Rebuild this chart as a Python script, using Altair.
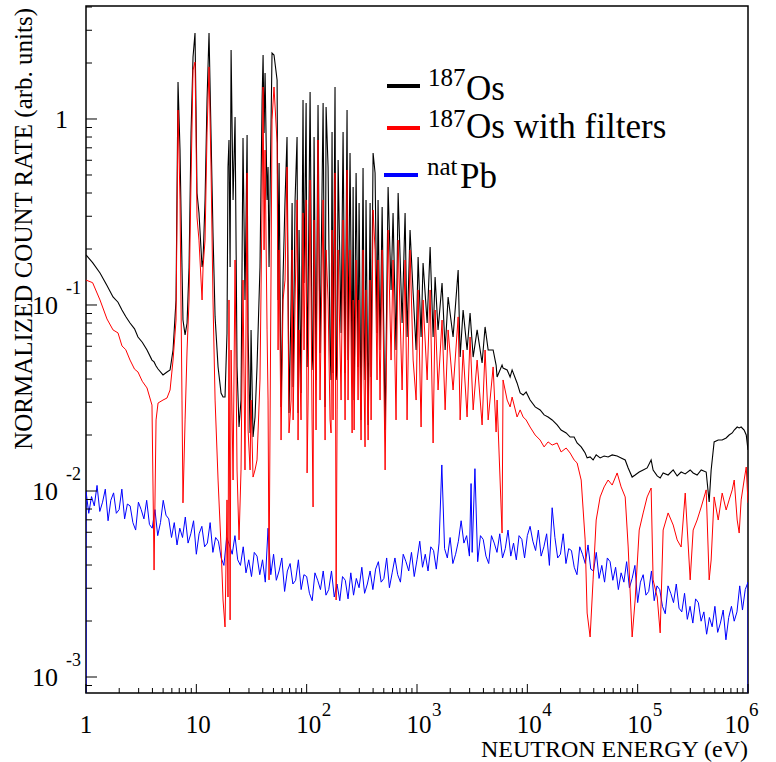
import altair as alt
import numpy as np
import pandas as pd

# ---------------- data (log10 units) ----------------
# log10 of neutron energy (eV) for the 187Os spectra
energy_log = [
    0.000, 0.060, 0.127, 0.190, 0.245, 0.290, 0.326, 0.360, 0.399, 0.440, 0.471, 0.510,
    0.553, 0.598, 0.617, 0.635,
    0.653, 0.698, 0.734, 0.762, 0.789, 0.816, 0.834, 0.852, 0.870, 0.879,
    0.898, 0.916, 0.934, 0.952, 0.970, 0.988, 0.997, 1.006, 1.024, 1.052,
    1.061, 1.079, 1.097, 1.115, 1.133, 1.151, 1.170, 1.197, 1.224, 1.242,
    1.260, 1.278, 1.287, 1.296, 1.306, 1.315, 1.333, 1.351, 1.369, 1.387,
    1.405, 1.423, 1.441, 1.460, 1.469, 1.487, 1.496, 1.514, 1.532, 1.550,
    1.577, 1.596, 1.605, 1.614, 1.623, 1.641, 1.650, 1.659, 1.686, 1.704,
    1.732, 1.741, 1.750, 1.768, 1.786, 1.804, 1.822, 1.840, 1.859, 1.868,
    1.877, 1.895, 1.913, 1.922, 1.931, 1.949, 1.967, 1.976, 1.995, 2.004,
    2.013, 2.031, 2.049, 2.058, 2.067, 2.085, 2.103, 2.121, 2.149, 2.167,
    2.176, 2.194, 2.212, 2.221, 2.230, 2.239, 2.257, 2.267, 2.276, 2.285,
    2.312, 2.330, 2.348, 2.366, 2.375, 2.393, 2.412, 2.421, 2.430, 2.448,
    2.466, 2.475, 2.493, 2.511, 2.520, 2.529, 2.538, 2.557, 2.575, 2.584,
    2.602, 2.620, 2.638, 2.647, 2.665, 2.684, 2.711, 2.738, 2.765, 2.783,
    2.810, 2.829, 2.865, 2.892, 2.910, 2.937, 2.965, 2.992, 3.010, 3.037,
    3.055, 3.092, 3.119, 3.146, 3.164, 3.191, 3.227, 3.255, 3.282, 3.327,
    3.373, 3.391, 3.418, 3.454, 3.481, 3.509, 3.545, 3.590, 3.617, 3.645,
    3.690, 3.717, 3.726, 3.771, 3.780, 3.817, 3.844, 3.862, 3.907, 3.935,
    3.962, 3.989, 4.025, 4.071, 4.116, 4.152, 4.188, 4.225, 4.270, 4.306,
    4.352, 4.388, 4.424, 4.451, 4.488, 4.506, 4.524, 4.542, 4.569, 4.596,
    4.624, 4.660, 4.696, 4.732, 4.769, 4.814, 4.850, 4.887, 4.914, 4.950,
    4.977, 5.014, 5.050, 5.086, 5.122, 5.140, 5.177, 5.204, 5.231, 5.276,
    5.322, 5.358, 5.394, 5.431, 5.476, 5.503, 5.539, 5.576, 5.621, 5.648,
    5.666, 5.693, 5.730, 5.766, 5.802, 5.829, 5.857, 5.875, 5.902, 5.920,
    5.938, 5.965, 5.984, 6.000,
]

# log10 of normalized count rate, 187Os
os187_log = [
    -0.731, -0.772, -0.828, -0.895, -0.957, -0.985, -1.027, -1.062, -1.097, -1.128, -1.172, -1.200,
    -1.242, -1.296, -1.306, -1.328,
    -1.344, -1.376, -1.360, -1.349, -1.242, -0.973, 0.199, -0.167, -0.796, -1.081,
    -1.161, -1.097, -0.796, -0.075, 0.333, 0.462, 0.065, -0.398, -0.505, -0.796,
    -0.758, -0.435, 0.102, 0.462, -0.075, -0.613, -1.064, -1.333, -1.473, -1.495,
    -1.495, -1.150, -0.258, -0.113, -0.796, 0.371, -0.435, 0.011, -1.333, -1.656,
    -1.511, -0.102, -0.973, -0.086, -1.150, -1.688, -1.134, -1.710, -1.602, -1.333,
    -0.796, 0.102, 0.344, -0.075, 0.247, -0.435, -0.258, -0.796, 0.355, 0.344,
    0.210, -0.973, -0.237, -1.548, -0.849, -0.435, -0.097, -1.581, -0.973, -0.452,
    -1.441, -0.435, -0.097, -1.581, -0.597, -1.473, 0.102, -0.882, 0.086, -1.333,
    -0.973, 0.145, -1.242, -1.349, -0.097, -1.403, 0.075, -1.258, 0.086, -1.548,
    0.065, -0.258, -1.242, -1.403, -0.070, -1.366, 0.172, -1.403, -1.333, -0.220,
    -1.150, -0.070, -1.366, 0.048, -1.296, -0.183, -1.403, -0.366, -1.511, -0.290,
    -1.333, -0.452, -1.618, -0.263, -1.150, -1.403, -0.435, -1.645, -0.452, -1.387,
    -0.183, -0.290, -1.150, -0.435, -1.242, -0.473, -1.672, -0.366, -0.919, -0.505,
    -1.242, -0.398, -1.097, -0.505, -1.172, -0.597, -0.935, -1.242, -0.742, -1.172,
    -0.774, -1.097, -0.688, -1.172, -0.849, -1.134, -0.882, -1.242, -0.957, -1.172,
    -0.812, -1.280, -1.027, -1.242, -1.043, -1.280, -1.134, -1.312, -1.118, -1.242,
    -1.242, -1.323, -1.387, -1.323, -1.339, -1.349, -1.387, -1.349, -1.419, -1.473,
    -1.484, -1.468, -1.511, -1.548, -1.564, -1.591, -1.602, -1.618, -1.645, -1.672,
    -1.688, -1.710, -1.710, -1.742, -1.763, -1.779, -1.796, -1.822, -1.817, -1.833,
    -1.806, -1.822, -1.812, -1.817, -1.806, -1.812, -1.822, -1.833, -1.876, -1.925,
    -1.914, -1.898, -1.887, -1.876, -1.833, -1.887, -1.919, -1.930, -1.903, -1.914,
    -1.887, -1.919, -1.898, -1.908, -1.887, -1.903, -1.914, -1.887, -1.898, -2.059,
    -1.887, -1.736, -1.726, -1.726, -1.715, -1.699, -1.688, -1.672, -1.656, -1.661,
    -1.656, -1.672, -1.699, -1.779,
]

# log10 of normalized count rate, 187Os with filters
os187_filt_log = [
    -0.866, -0.880, -0.973, -1.075, -1.134, -1.150, -1.220, -1.240, -1.296, -1.345, -1.360, -1.410,
    -1.446, -1.538, -2.425, -1.618,
    -1.527, -1.511, -1.500, -1.457, -1.296, -1.081, 0.048, -0.435, -1.511, -2.064,
    -1.618, -1.242, -0.973, -0.328, 0.263, 0.306, -0.075, -0.527, -0.651, -0.973,
    -0.796, -0.651, -0.075, 0.280, -0.258, -0.973, -1.511, -1.941, -2.301, -2.586,
    -2.731, -2.048, -2.570, -0.973, -2.693, -1.242, -1.941, -0.758, -1.887, -2.263,
    -1.887, -0.866, -1.887, -0.290, -1.672, -1.887, -1.511, -1.925, -1.887, -1.833,
    -1.403, -0.435, 0.172, -0.704, -0.167, -1.134, -1.511, -2.478, -0.005, 0.172,
    -0.129, -1.242, -0.704, -1.726, -0.973, -0.866, -0.258, -1.688, -1.511, -0.704,
    -1.618, -0.973, -0.435, -1.726, -1.134, -1.618, -0.505, -1.242, -0.435, -1.903,
    -1.511, -0.328, -1.618, -2.086, -0.543, -1.672, -0.113, -1.511, -0.435, -1.726,
    -0.704, -0.973, -1.618, -1.688, -0.597, -1.618, -0.290, -2.586, -1.564, -0.704,
    -1.511, -0.543, -1.618, -0.274, -1.511, -0.704, -1.688, -0.973, -1.672, -0.758,
    -1.511, -0.973, -1.726, -0.704, -1.403, -1.763, -0.919, -1.726, -0.866, -1.618,
    -0.489, -0.704, -1.403, -0.758, -1.511, -0.704, -1.887, -0.597, -1.296, -0.758,
    -1.618, -0.651, -1.457, -0.758, -1.618, -0.704, -1.296, -1.511, -0.919, -1.656,
    -0.973, -1.403, -0.919, -1.742, -1.027, -1.457, -1.081, -1.564, -1.134, -1.457,
    -1.064, -1.618, -1.242, -1.602, -1.172, -1.564, -1.296, -1.645, -1.242, -1.618,
    -1.333, -1.683, -1.511, -2.226, -1.403, -1.511, -1.548, -1.495, -1.602, -1.564,
    -1.602, -1.618, -1.656, -1.699, -1.726, -1.763, -1.736, -1.753, -1.742, -1.790,
    -1.769, -1.796, -1.833, -1.849, -1.941, -2.102, -2.263, -2.656, -2.785, -2.478,
    -2.156, -2.032, -1.978, -1.941, -1.968, -1.903, -1.978, -2.032, -2.301, -2.785,
    -2.586, -2.210, -2.118, -2.032, -1.984, -2.478, -2.570, -2.763, -2.210, -2.118,
    -2.183, -2.263, -2.301, -2.011, -2.478, -2.210, -2.156, -2.086, -1.994, -2.478,
    -2.371, -2.032, -2.156, -2.011, -2.102, -2.048, -1.994, -1.941, -2.156, -2.226,
    -2.048, -1.941, -1.871, -2.064,
]

# log10 of neutron energy (eV) for natPb
pb_energy_log = [
    0.000,
    0.000, 0.025, 0.050, 0.075, 0.100, 0.125, 0.150, 0.175,
    0.200, 0.225, 0.250, 0.275, 0.300, 0.325, 0.350, 0.375,
    0.400, 0.425, 0.450, 0.475, 0.500, 0.525, 0.550, 0.575,
    0.600, 0.625, 0.650, 0.675, 0.700, 0.725, 0.750, 0.775,
    0.800, 0.825, 0.850, 0.875, 0.900, 0.925, 0.950, 0.975,
    1.000, 1.025, 1.050, 1.075, 1.100, 1.125, 1.150, 1.175,
    1.200, 1.225, 1.250, 1.275, 1.300, 1.325, 1.350, 1.375,
    1.400, 1.425, 1.450, 1.475, 1.500, 1.525, 1.550, 1.575,
    1.600, 1.625, 1.650, 1.675, 1.700, 1.725, 1.750, 1.775,
    1.800, 1.825, 1.850, 1.875, 1.900, 1.925, 1.950, 1.975,
    2.000, 2.025, 2.050, 2.075, 2.100, 2.125, 2.150, 2.175,
    2.200, 2.225, 2.250, 2.275, 2.300, 2.325, 2.350, 2.375,
    2.400, 2.425, 2.450, 2.475, 2.500, 2.525, 2.550, 2.575,
    2.600, 2.625, 2.650, 2.675, 2.700, 2.725, 2.750, 2.775,
    2.800, 2.825, 2.850, 2.875, 2.900, 2.925, 2.950, 2.975,
    3.000, 3.025, 3.050, 3.075, 3.100, 3.125, 3.150, 3.175,
    3.200, 3.225, 3.250, 3.275, 3.300, 3.325, 3.350, 3.375,
    3.400, 3.425, 3.450, 3.475, 3.490, 3.500, 3.525, 3.550, 3.575,
    3.600, 3.625, 3.650, 3.675, 3.700, 3.725, 3.750, 3.775,
    3.800, 3.825, 3.850, 3.875, 3.900, 3.925, 3.950, 3.975,
    4.000, 4.025, 4.050, 4.075, 4.100, 4.125, 4.150, 4.175,
    4.200, 4.225, 4.250, 4.275, 4.300, 4.325, 4.350, 4.375,
    4.400, 4.425, 4.450, 4.475, 4.500, 4.525, 4.550, 4.575,
    4.600, 4.625, 4.650, 4.675, 4.700, 4.725, 4.750, 4.775,
    4.800, 4.825, 4.850, 4.875, 4.900, 4.925, 4.950, 4.975,
    5.000, 5.025, 5.050, 5.075, 5.100, 5.125, 5.150, 5.175,
    5.200, 5.225, 5.250, 5.275, 5.300, 5.325, 5.350, 5.375,
    5.400, 5.425, 5.450, 5.475, 5.500, 5.525, 5.550, 5.575,
    5.600, 5.625, 5.650, 5.675, 5.700, 5.725, 5.750, 5.775,
    5.800, 5.825, 5.850, 5.875, 5.900, 5.925, 5.950, 5.975,
    6.000, 6.000,
]

# log10 of normalized count rate, natPb
pb_log = [
    -3.20,
    -2.00, -2.12, -2.03, -2.08, -1.97, -2.11, -2.06, -1.99,
    -2.16, -2.05, -2.01, -2.12, -2.10, -1.99, -2.15, -2.07,
    -2.08, -2.17, -2.21, -2.06, -2.10, -2.15, -2.05, -2.18,
    -2.20, -2.10, -2.24, -2.17, -2.05, -2.13, -2.15, -2.25,
    -2.17, -2.29, -2.20, -2.25, -2.14, -2.28, -2.23, -2.16,
    -2.34, -2.23, -2.19, -2.30, -2.28, -2.17, -2.33, -2.25,
    -2.27, -2.36, -2.40, -2.25, -2.29, -2.34, -2.24, -2.37,
    -2.40, -2.30, -2.44, -2.37, -2.46, -2.33, -2.35, -2.45,
    -2.37, -2.49, -2.20, -2.45, -2.34, -2.48, -2.43, -2.36,
    -2.54, -2.43, -2.39, -2.50, -2.48, -2.37, -2.53, -2.45,
    -2.46, -2.55, -2.59, -2.44, -2.48, -2.53, -2.43, -2.56,
    -2.53, -2.43, -2.57, -2.50, -2.59, -2.46, -2.48, -2.58,
    -2.44, -2.56, -2.47, -2.52, -2.41, -2.55, -2.50, -2.43,
    -2.53, -2.42, -2.38, -2.49, -2.47, -2.36, -2.52, -2.44,
    -2.36, -2.45, -2.49, -2.34, -2.38, -2.43, -2.33, -2.46,
    -2.37, -2.27, -2.41, -2.34, -2.43, -2.30, -2.32, -2.42,
    -2.28, -1.86, -2.31, -2.36, -2.25, -2.39, -2.34, -2.27,
    -2.16, -2.28, -2.24, -2.35, -1.96, -2.33, -1.88, -2.38, -2.24,
    -2.26, -2.35, -2.39, -2.24, -2.28, -2.33, -2.23, -2.36,
    -2.31, -2.21, -2.35, -2.28, -2.37, -2.24, -2.26, -2.36,
    -2.24, -2.19, -2.27, -2.32, -2.21, -2.35, -2.30, -2.23,
    -2.40, -2.09, -2.25, -2.36, -2.34, -2.23, -2.39, -2.31,
    -2.32, -2.41, -2.45, -2.30, -2.34, -2.39, -2.29, -2.42,
    -2.43, -2.33, -2.47, -2.40, -2.49, -2.36, -2.38, -2.48,
    -2.41, -2.53, -2.44, -2.49, -2.38, -2.52, -2.47, -2.40,
    -2.60, -2.49, -2.45, -2.56, -2.54, -2.43, -2.59, -2.51,
    -2.53, -2.62, -2.66, -2.51, -2.55, -2.60, -2.50, -2.63,
    -2.65, -2.55, -2.69, -2.62, -2.71, -2.58, -2.60, -2.70,
    -2.65, -2.77, -2.68, -2.73, -2.62, -2.76, -2.71, -2.64,
    -2.80, -2.68, -2.62, -2.70, -2.65, -2.51, -2.64, -2.53,
    -2.49, -3.20,
]

# axis tick values and labels
x_major = [1, 10, 100, 1000, 10000, 100000, 1000000]
x_main = ["1", "10", "10", "10", "10", "10", "10"]
x_sup = ["", "", "2", "3", "4", "5", "6"]
y_major = [1, 0.1, 0.01, 0.001]
y_main = ["1", "10", "10", "10"]
y_sup = ["", "-1", "-2", "-3"]
legend_sup = ["187", "187", "nat"]
legend_main = ["Os", "Os with filters", "Pb"]

# ---------------- layout ----------------
W, H = 662, 687
FONT = "Liberation Serif"
Y_LO, Y_HI = 10 ** -3.086, 10 ** 0.6075

xs = alt.Scale(type="log", domain=[1, 1e6], nice=False)
ys = alt.Scale(type="log", domain=[Y_LO, Y_HI], nice=False)

df_os = pd.DataFrame({
    "E": 10 ** np.array(energy_log),
    "os": 10 ** np.array(os187_log),
    "osf": 10 ** np.array(os187_filt_log),
})
df_pb = pd.DataFrame({
    "E": 10 ** np.array(pb_energy_log),
    "pb": 10 ** np.array(pb_log),
    "i": np.arange(len(pb_log)),
})

X = alt.X("E:Q", scale=xs, axis=None)

line_pb = alt.Chart(df_pb).mark_line(color="#0000ff", strokeWidth=1, clip=True).encode(
    x=X, y=alt.Y("pb:Q", scale=ys, axis=None), order="i:Q")
line_os = alt.Chart(df_os).mark_line(color="#000000", strokeWidth=1.1, clip=True).encode(
    x=X, y=alt.Y("os:Q", scale=ys, axis=None))
line_osf = alt.Chart(df_os).mark_line(color="#ff0000", strokeWidth=1, clip=True).encode(
    x=X, y=alt.Y("osf:Q", scale=ys, axis=None))

# inward ticks
minor_x = [m * 10 ** k for k in range(6) for m in range(2, 10)]
minor_y = [m * 10.0 ** k for k in range(-4, 1) for m in range(2, 10)
           if Y_LO <= m * 10.0 ** k <= Y_HI]

tick_xmaj = alt.Chart(pd.DataFrame({"v": x_major})).mark_rule(color="black", strokeWidth=1).encode(
    x=alt.X("v:Q", scale=xs, axis=None), y=alt.value(H), y2=alt.value(H - 9))
tick_xmin = alt.Chart(pd.DataFrame({"v": minor_x})).mark_rule(color="black", strokeWidth=1).encode(
    x=alt.X("v:Q", scale=xs, axis=None), y=alt.value(H), y2=alt.value(H - 5))
tick_ymaj = alt.Chart(pd.DataFrame({"v": y_major})).mark_rule(color="black", strokeWidth=1).encode(
    y=alt.Y("v:Q", scale=ys, axis=None), x=alt.value(0), x2=alt.value(11))
tick_ymin = alt.Chart(pd.DataFrame({"v": minor_y})).mark_rule(color="black", strokeWidth=1).encode(
    y=alt.Y("v:Q", scale=ys, axis=None), x=alt.value(0), x2=alt.value(6))

# tick labels
dfx = pd.DataFrame({"v": x_major, "main": x_main, "sup": x_sup})
dfy = pd.DataFrame({"v": y_major, "main": y_main, "sup": y_sup})


def xlab(df, dx, field, size, ypix, align):
    return alt.Chart(df).mark_text(font=FONT, fontSize=size, align=align, baseline="alphabetic",
                                   dx=dx, color="black").encode(
        x=alt.X("v:Q", scale=xs, axis=None), y=alt.value(ypix), text=f"{field}:N")


def ylab(df, xpix, dy, field, size, align):
    return alt.Chart(df).mark_text(font=FONT, fontSize=size, align=align, baseline="alphabetic",
                                   dy=dy, color="black").encode(
        y=alt.Y("v:Q", scale=ys, axis=None), x=alt.value(xpix), text=f"{field}:N")


labels = [
    xlab(dfx.iloc[[0]], 0, "main", 25, 727, "center"),
    xlab(dfx.iloc[1:6], 2, "main", 25, 727, "center"),
    xlab(dfx.iloc[[6]], -11, "main", 25, 727, "center"),
    xlab(dfx.iloc[2:6], 15, "sup", 19, 710, "left"),
    xlab(dfx.iloc[[6]], 1, "sup", 19, 710, "left"),
    ylab(dfy.iloc[[0]], -18, 9, "main", 26, "right"),
    ylab(dfy.iloc[1:], -28, 9, "main", 26, "right"),
    ylab(dfy.iloc[1:], -20, -11, "sup", 18, "left"),
]

one = pd.DataFrame({"a": [0]})


def txt(text, x, y, size, align="left", angle=0):
    kw = dict(text=text, font=FONT, fontSize=size, align=align, baseline="alphabetic", color="black")
    if angle:
        kw["angle"] = angle
    return alt.Chart(one).mark_text(**kw).encode(x=alt.value(x), y=alt.value(y))


titles = [
    txt("NORMALIZED COUNT RATE (arb. units)", -54, 2, 25, align="right", angle=270),
    txt("NEUTRON ENERGY (eV)", W, 751, 24, align="right"),
]


def legline(color, x1, x2, y):
    return alt.Chart(one).mark_rule(color=color, strokeWidth=4).encode(
        x=alt.value(x1), x2=alt.value(x2), y=alt.value(y))


legend = [
    legline("#000000", 301, 334, 80),
    legline("#ff0000", 301, 334, 122),
    legline("#0000ff", 298, 332, 169),
    txt(legend_sup[0], 342, 80, 25),
    txt(legend_main[0], 380, 94, 35),
    txt(legend_sup[1], 342, 121, 25),
    txt(legend_main[1], 380, 132, 35),
    txt(legend_sup[2], 341, 169, 25),
    txt(legend_main[2], 374, 182, 35),
]

chart = alt.layer(
    line_pb, line_os, line_osf,
    tick_xmaj, tick_xmin, tick_ymaj, tick_ymin,
    *labels, *titles, *legend,
).properties(
    width=W, height=H,
    padding={"left": 86, "top": 6, "right": 28, "bottom": 69},
    autosize=alt.AutoSizeParams(type="none"),
    background="white",
).configure_view(stroke="black", strokeWidth=1.5)

chart.save("out.html", embed_options={"renderer": "svg", "actions": False})
